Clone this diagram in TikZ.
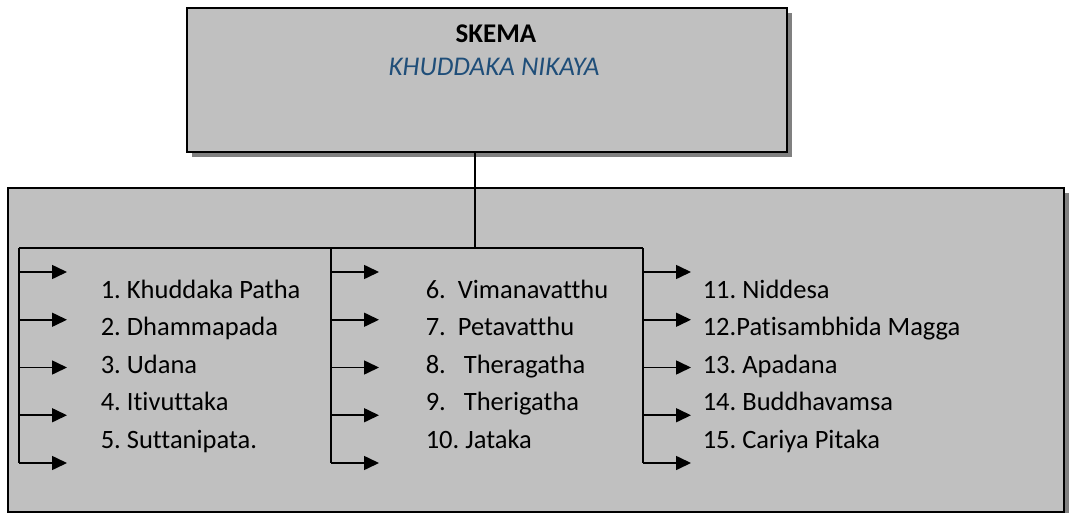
\documentclass[tikz,border=0pt]{standalone}
\usepackage{fontspec}
\setmainfont{Carlito}[Ligatures={NoCommon}]
\frenchspacing
\usetikzlibrary{arrows.meta,shadows,calc}
\definecolor{abu}{HTML}{C0C0C0}
\definecolor{bayang}{HTML}{808080}
\definecolor{judulbiru}{HTML}{1F4E79}
\tikzset{
    kotak/.style={draw, fill=abu, line width=2pt, inner sep=0pt,
        drop shadow={shadow xshift=5pt, shadow yshift=-5pt, fill=bayang, opacity=1}},
    isi/.style={anchor=base west, inner sep=0pt, font=\fontsize{26.5}{30}\selectfont},
    judulteks/.style={anchor=base, inner sep=0pt},
}
\begin{document}
\begin{tikzpicture}[x=1pt, y=-1pt, >={Triangle[length=15pt, width=14pt]}, line width=1.6pt]
    \useasboundingbox (0,0) rectangle (1070,513);

    % kotak judul
    \node (skema) [kotak, minimum width=600pt, minimum height=144pt] at (487,80) {};
    \node (judul) [judulteks, font=\fontsize{27}{31}\selectfont\bfseries] at (496,43) {SKEMA};
    \node (nikaya) [judulteks, font=\fontsize{27}{31}\selectfont\itshape, text=judulbiru] at (494,76) {KHUDDAKA NIKAYA};

    % kotak isi
    \node (daftar) [kotak, minimum width=1056pt, minimum height=324pt] at (536,350) {};

    %% cabang
    \coordinate (cabang) at (475,248);
    \coordinate (k1) at (19,248);
    \coordinate (k2) at (331,248);
    \coordinate (k3) at (643,248);
    \draw (cabang |- skema.south) -- (cabang);
    \draw (k1) -- (k3);
    \foreach \k in {1,2,3} {
        \coordinate (b\k) at ($(k\k) + (0,215)$);
        \draw (k\k) -- (b\k);
    }

    %% panah
    \foreach \k in {1,2,3} {
        \foreach \r in {0,...,4} {
            \coordinate (a\k-\r) at ($(k\k) + (0,24+47.75*\r)$);
            \draw [->] (a\k-\r) -- ++(48,0);
        }
    }

    %% nama kitab
    \node (n1)  [isi] at (100,298)   {1. Khuddaka Patha};
    \node (n2)  [isi] at (100,335.5) {2. Dhammapada};
    \node (n3)  [isi] at (100,373)   {3. Udana};
    \node (n4)  [isi] at (100,410.5) {4. Itivuttaka};
    \node (n5)  [isi] at (100,448)   {5. Suttanipata.};

    \node (n6)  [isi] at (425,298)   {6.\ \ Vimanavatthu};
    \node (n7)  [isi] at (425,335.5) {7.\ \ Petavatthu};
    \node (n8)  [isi] at (425,373)   {8.\ \ \ Theragatha};
    \node (n9)  [isi] at (425,410.5) {9.\ \ \ Therigatha};
    \node (n10) [isi] at (425,448)   {10. Jataka};

    \node (n11) [isi] at (702,298)   {11. Niddesa};
    \node (n12) [isi] at (702,335.5) {12.Patisambhida Magga};
    \node (n13) [isi] at (702,373)   {13. Apadana};
    \node (n14) [isi] at (702,410.5) {14. Buddhavamsa};
    \node (n15) [isi] at (702,448)   {15. Cariya Pitaka};
\end{tikzpicture}
\end{document}
